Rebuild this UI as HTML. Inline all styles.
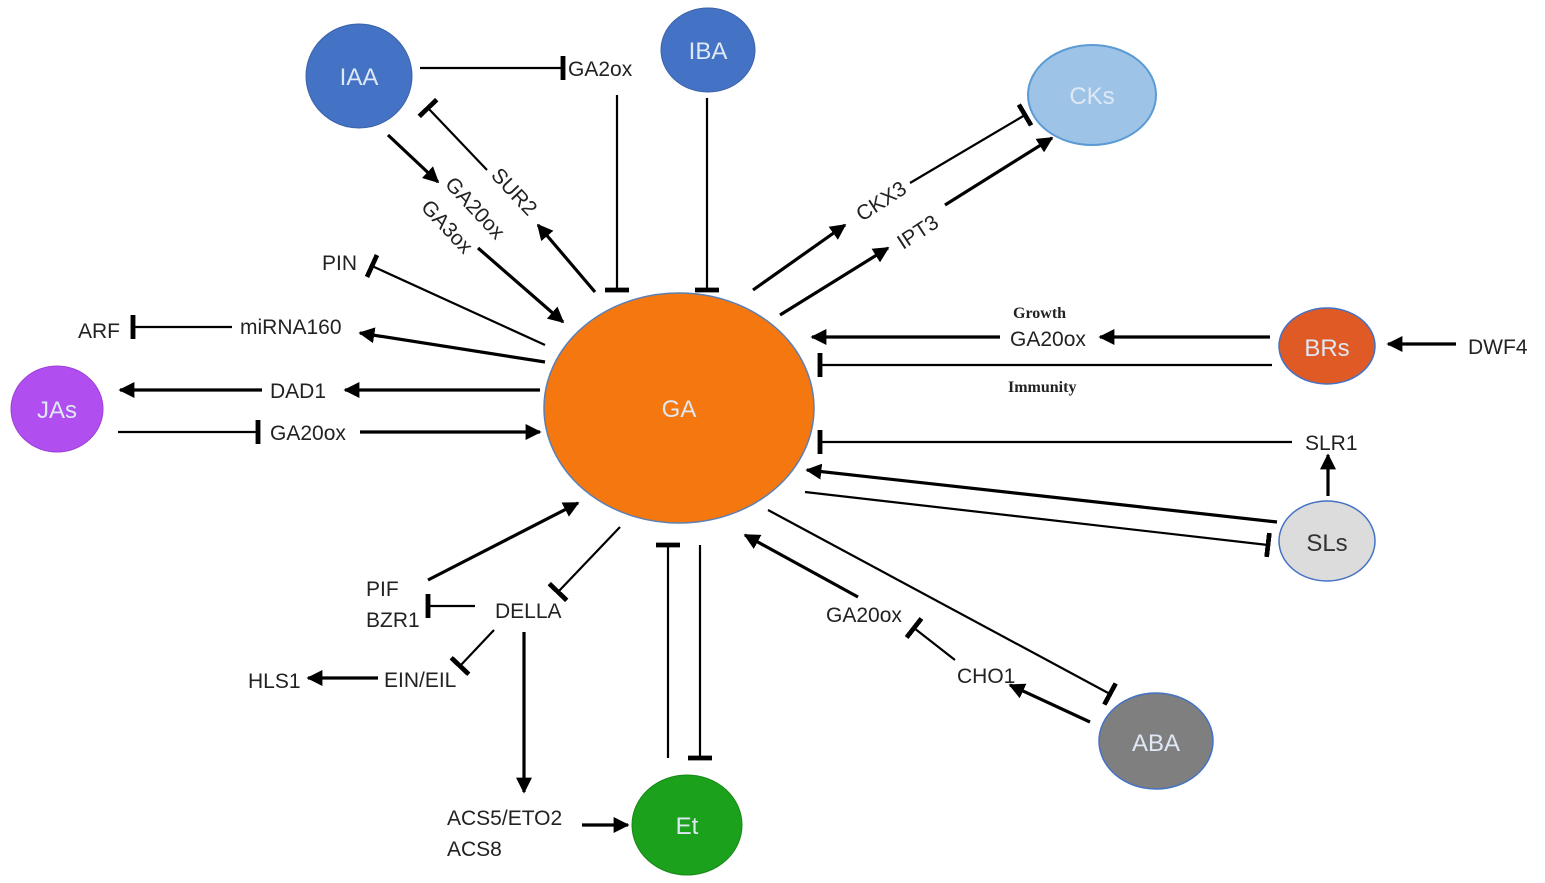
<!DOCTYPE html>
<html><head><meta charset="utf-8"><style>
html,body{margin:0;padding:0;background:#fff;}
svg{display:block;}
text{font-family:"Liberation Sans",sans-serif;font-size:21px;fill:#222;}
.b{font-family:"Liberation Serif",serif;font-weight:bold;font-size:16px;}
.w{fill:#dfe8f5;font-size:24px;}
</style></head><body>
<svg width="1545" height="883" viewBox="0 0 1545 883" xmlns="http://www.w3.org/2000/svg">
<defs>
<marker id="a" viewBox="0 0 10 10" refX="9" refY="5" markerWidth="5" markerHeight="5" orient="auto-start-reverse" markerUnits="strokeWidth"><path d="M0,0 L10,5 L0,10 z" fill="#000"/></marker>
<marker id="t" viewBox="0 0 4 20" refX="2" refY="10" markerWidth="2.2" markerHeight="11" orient="auto" markerUnits="strokeWidth"><rect x="0" y="0" width="4" height="20" fill="#000"/></marker>
</defs>
<g stroke="#000" fill="none">
<g stroke-width="3.2" marker-end="url(#a)">
<line x1="388" y1="135" x2="438" y2="182"/>
<line x1="595" y1="292" x2="538" y2="225"/>
<line x1="478" y1="248" x2="563" y2="322"/>
<line x1="545" y1="362" x2="360" y2="333"/>
<line x1="540" y1="390" x2="345" y2="390"/>
<line x1="262" y1="390" x2="120" y2="390"/>
<line x1="360" y1="432" x2="540" y2="432"/>
<line x1="428" y1="580" x2="578" y2="503"/>
<line x1="378" y1="678" x2="308" y2="678"/>
<line x1="524" y1="632" x2="524" y2="792"/>
<line x1="582" y1="825" x2="628" y2="825"/>
<line x1="1090" y1="722" x2="1010" y2="685"/>
<line x1="858" y1="597" x2="745" y2="535"/>
<line x1="1277" y1="522" x2="807" y2="470"/>
<line x1="1328" y1="496" x2="1328" y2="455"/>
<line x1="1270" y1="337" x2="1100" y2="337"/>
<line x1="1000" y1="337" x2="812" y2="337"/>
<line x1="1456" y1="344" x2="1388" y2="344"/>
<line x1="753" y1="290" x2="845" y2="225"/>
<line x1="780" y1="315" x2="888" y2="248"/>
<line x1="945" y1="205" x2="1052" y2="138"/>
</g>
<g stroke-width="2.2" marker-end="url(#t)">
<line x1="420" y1="68" x2="563" y2="68"/>
<line x1="617" y1="95" x2="617" y2="290"/>
<line x1="707" y1="98" x2="707" y2="290"/>
<line x1="487" y1="170" x2="428" y2="108"/>
<line x1="545" y1="345" x2="372" y2="266"/>
<line x1="232" y1="327" x2="133" y2="327"/>
<line x1="118" y1="432" x2="258" y2="432"/>
<line x1="475" y1="606" x2="428" y2="606"/>
<line x1="620" y1="527" x2="558" y2="592"/>
<line x1="494" y1="630" x2="460" y2="666"/>
<line x1="668" y1="758" x2="668" y2="545"/>
<line x1="700" y1="545" x2="700" y2="758"/>
<line x1="955" y1="660" x2="914" y2="628"/>
<line x1="768" y1="510" x2="1110" y2="694"/>
<line x1="805" y1="492" x2="1268" y2="545"/>
<line x1="1292" y1="442" x2="820" y2="442"/>
<line x1="1272" y1="365" x2="820" y2="365"/>
<line x1="910" y1="183" x2="1025" y2="115"/>
</g>
</g>
<ellipse cx="359" cy="76" rx="53" ry="52" fill="#4472c4" stroke="#3a62a8"/>
<ellipse cx="708" cy="50" rx="47" ry="42" fill="#4472c4" stroke="#3a62a8"/>
<ellipse cx="1092" cy="95" rx="64" ry="50" fill="#9dc3e6" stroke="#5b9bd5" stroke-width="2"/>
<ellipse cx="679" cy="408" rx="135" ry="115" fill="#f4780f" stroke="#5b7fb5" stroke-width="1.5"/>
<ellipse cx="1327" cy="346" rx="48" ry="38" fill="#e05a26" stroke="#4472c4" stroke-width="1.5"/>
<ellipse cx="57" cy="409" rx="46" ry="43" fill="#b04ef0" stroke="#9d3fd8"/>
<ellipse cx="1327" cy="541" rx="48" ry="40" fill="#dcdcdc" stroke="#4472c4" stroke-width="1.5"/>
<ellipse cx="1156" cy="741" rx="57" ry="48" fill="#7f7f7f" stroke="#4472c4" stroke-width="1.5"/>
<ellipse cx="687" cy="825" rx="55" ry="50" fill="#1ba11b" stroke="#168916"/>
<g text-anchor="middle">
<text class="w" x="359" y="85">IAA</text>
<text class="w" x="708" y="59">IBA</text>
<text class="w" x="1092" y="104">CKs</text>
<text class="w" x="679" y="417">GA</text>
<text class="w" x="1327" y="356">BRs</text>
<text class="w" x="57" y="418">JAs</text>
<text class="w" x="1327" y="551" style="fill:#333">SLs</text>
<text class="w" x="1156" y="751">ABA</text>
<text class="w" x="687" y="834">Et</text>
</g>
<text x="568" y="76">GA2ox</text>
<text x="0" y="0" transform="translate(490,176) rotate(47)">SUR2</text>
<text x="0" y="0" transform="translate(444,185) rotate(47)">GA20ox</text>
<text x="0" y="0" transform="translate(420,208) rotate(47)">GA3ox</text>
<text x="322" y="270">PIN</text>
<text x="240" y="334">miRNA160</text>
<text x="78" y="338">ARF</text>
<text x="270" y="398">DAD1</text>
<text x="270" y="440">GA20ox</text>
<text x="366" y="596">PIF</text>
<text x="366" y="627">BZR1</text>
<text x="495" y="618">DELLA</text>
<text x="384" y="687">EIN/EIL</text>
<text x="248" y="688">HLS1</text>
<text x="447" y="825">ACS5/ETO2</text>
<text x="447" y="856">ACS8</text>
<text x="957" y="683">CHO1</text>
<text x="826" y="622">GA20ox</text>
<text x="1305" y="450">SLR1</text>
<text x="1010" y="346">GA20ox</text>
<text class="b" x="1013" y="318">Growth</text>
<text class="b" x="1008" y="392">Immunity</text>
<text x="1468" y="354">DWF4</text>
<text x="0" y="0" transform="translate(862,222) rotate(-33)">CKX3</text>
<text x="0" y="0" transform="translate(903,250) rotate(-33)">IPT3</text>
</svg>
</body></html>
